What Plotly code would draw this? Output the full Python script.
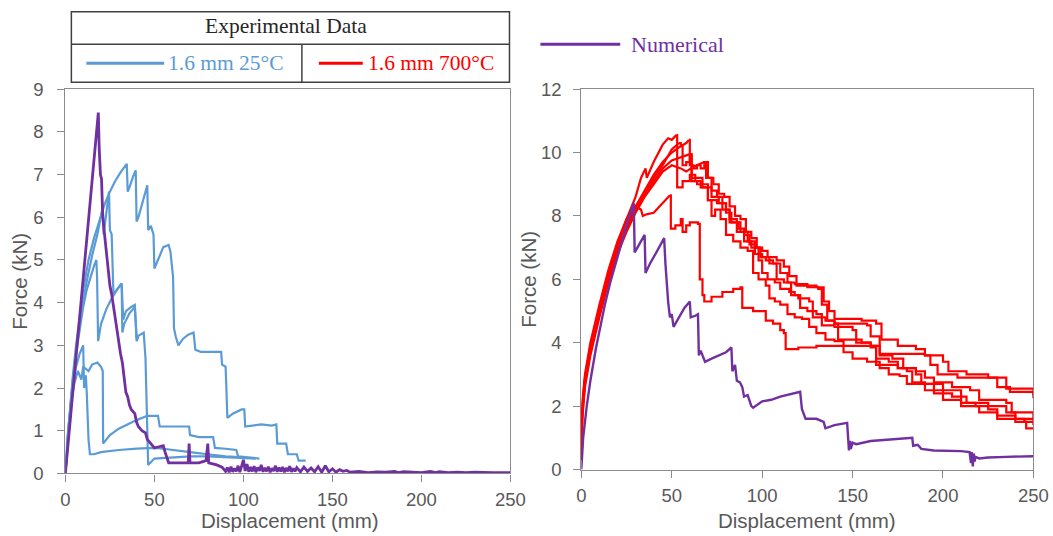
import plotly.graph_objects as go

# ---------------- data ----------------
# Left panel: 1.6 mm 25°C experimental curves (displacement mm, force kN)
blue_a_x = [0, 2, 4, 6, 8, 10, 13, 16, 19, 22, 25, 28, 31, 34.5, 35, 36, 38, 39.5, 40, 41, 43, 46, 46.5, 48, 49.5, 50, 52, 55, 58, 59, 60.5, 61, 62, 63.5, 66, 69, 72, 73, 76, 80, 87.5, 88, 90, 91, 94, 99, 100.5, 101, 104, 110, 116, 118.5, 119, 124, 125, 130, 131, 135]
blue_a_y = [0, 1.2, 2.2, 3.0, 3.7, 4.3, 5.0, 5.5, 5.9, 6.3, 6.6, 6.85, 7.05, 7.25, 6.6, 6.7, 6.95, 7.1, 5.9, 6.0, 6.3, 6.75, 5.7, 5.8, 5.6, 4.8, 5.0, 5.3, 5.35, 5.2, 4.6, 3.4, 3.2, 3.0, 3.15, 3.25, 3.3, 2.9, 2.85, 2.85, 2.85, 2.55, 2.5, 1.3, 1.4, 1.5, 1.5, 1.1, 1.12, 1.15, 1.12, 1.15, 0.7, 0.7, 0.45, 0.45, 0.3, 0.3]

blue_b_x = [0, 3, 6, 9, 12, 15, 18, 20, 21, 21.5, 23, 24.5, 25, 26, 27, 29, 31.6, 32.5, 34, 37, 39, 40, 42, 44, 45, 46.5, 50, 60, 70, 80, 90, 100, 107]
blue_b_y = [0, 1.7, 2.9, 3.8, 4.5, 5.1, 5.6, 6.0, 6.25, 5.6, 6.1, 6.6, 5.7, 5.6, 4.2, 4.3, 4.45, 3.6, 3.8, 3.9, 3.95, 3.2, 3.25, 3.3, 2.7, 0.2, 0.35, 0.38, 0.4, 0.4, 0.38, 0.36, 0.35]

blue_c_x = [0, 2, 4, 6, 8, 10, 12, 14, 16, 17.4, 17.8, 18.4, 20, 23, 26, 29, 31.6, 32, 33, 36, 39, 40, 41]
blue_c_y = [0, 1.1, 2.0, 2.8, 3.4, 3.9, 4.3, 4.6, 4.85, 5.0, 4.6, 3.1, 3.5, 3.85, 4.1, 4.3, 4.45, 3.3, 3.5, 3.75, 3.9, 3.1, 3.2]

blue_d_x = [0, 1, 3, 5, 7, 9, 10, 13, 15, 18, 20, 21, 21.2, 25, 30, 35, 40, 46, 52, 53, 60, 69.5, 70, 75, 83, 84, 90, 96, 97, 109]
blue_d_y = [0, 0.8, 1.6, 2.1, 2.4, 2.2, 2.5, 2.4, 2.55, 2.6, 2.5, 2.4, 0.7, 0.9, 1.05, 1.15, 1.25, 1.35, 1.35, 1.1, 1.1, 1.1, 0.9, 0.85, 0.85, 0.6, 0.58, 0.55, 0.4, 0.35]

blue_e_x = [0, 1, 2, 4, 6, 8, 10, 10.5, 11.5, 12, 12.5, 13, 13.8, 16, 20, 30, 40, 50, 55, 60, 70, 80, 90, 100]
blue_e_y = [0, 0.6, 1.2, 2.0, 2.5, 2.8, 3.0, 2.0, 2.3, 1.9, 1.0, 0.8, 0.45, 0.45, 0.5, 0.55, 0.58, 0.6, 0.58, 0.55, 0.5, 0.45, 0.4, 0.38]

# Left panel: numerical curve
num_l_x = [0, 18.5, 19, 19.7, 20.3, 21, 22, 23, 24, 25, 26, 27, 28, 29, 30, 31, 32, 33, 34, 35, 36, 37, 38, 39, 40, 41, 43, 45, 46, 48, 50, 52, 55, 56, 57, 58, 60, 65, 69, 69.5, 70, 75, 79, 80, 80.5, 85, 88, 90,
           91, 92, 93, 94, 95, 96, 97, 98, 99, 100, 101, 102, 103, 104, 105, 106, 107, 108, 109, 110, 111, 112, 113, 114, 115, 116, 117, 118, 119, 120, 121, 122, 123, 124, 125, 126, 127, 128, 129, 130,
           132, 134, 136, 138, 140, 142, 144, 146, 148, 150, 152, 154, 156, 158, 160,
           165, 170, 175, 180, 185, 187, 190, 195, 200, 205, 208, 210, 215, 220, 225, 230, 235, 240, 245, 250]
num_l_y = [0, 8.45, 7.6, 7.0, 6.9, 6.0, 5.6, 5.2, 4.8, 4.4, 4.2, 3.9, 3.7, 3.3, 3.0, 2.8, 2.6, 2.2, 1.9, 1.8, 1.6, 1.5, 1.45, 1.4, 1.2, 1.1, 1.0, 0.95, 0.8, 0.7, 0.6, 0.62, 0.65, 0.5, 0.35, 0.25, 0.25, 0.25, 0.25, 0.7, 0.25, 0.25, 0.3, 0.7, 0.25, 0.2, 0.15, 0.05,
           0.14, 0.03, 0.16, 0.04, 0.12, 0.05, 0.18, 0.03, 0.15, 0.32, 0.06, 0.22, 0.04, 0.15, 0.05, 0.17, 0.03, 0.14, 0.06, 0.2, 0.04, 0.13, 0.05, 0.16, 0.03, 0.12, 0.06, 0.18, 0.04, 0.14, 0.05, 0.15, 0.03, 0.13, 0.05, 0.17, 0.04, 0.12, 0.05, 0.14,
           0.04, 0.15, 0.05, 0.13, 0.04, 0.16, 0.03, 0.18, 0.04, 0.11, 0.03, 0.09, 0.05, 0.07, 0.03,
           0.05, 0.02, 0.04, 0.03, 0.05, 0.02, 0.04, 0.03, 0.02, 0.05, 0.02, 0.04, 0.02, 0.03, 0.02, 0.03, 0.02, 0.02, 0.02, 0.02]

# Right panel: 1.6 mm 700°C experimental curves
red_1_x = [0, 0.5, 2, 5, 10, 15, 20, 25, 30, 33, 35.5, 36.2, 40, 45, 48, 50, 52.5, 53, 56, 60, 63, 66, 70, 75, 80, 82, 88, 92, 96, 100, 104, 108, 112, 116, 120, 126, 128, 135, 140, 142, 155, 160, 163, 175, 185, 188, 200, 210, 213, 225, 235, 240, 250]
red_1_y = [0.3, 2.0, 2.9, 3.9, 5.1, 6.2, 7.1, 7.9, 8.6, 9.2, 9.5, 9.2, 9.7, 10.25, 10.45, 10.4, 10.55, 8.9, 9.1, 9.3, 9.1, 8.9, 8.5, 8.4, 8.2, 7.8, 7.5, 7.2, 6.8, 6.7, 6.5, 6.0, 5.9, 5.5, 5.4, 5.3, 4.8, 4.7, 4.6, 4.1, 4.0, 3.9, 3.3, 3.2, 3.0, 2.7, 2.5, 2.3, 2.1, 2.0, 1.8, 1.6, 1.5]

red_2_x = [0, 0.5, 2, 5, 10, 15, 20, 25, 30, 35, 40, 45, 50, 55, 58, 59.5, 60, 62, 64, 66, 68, 70, 73, 76, 79, 82, 85, 88, 91, 94, 97, 100, 103, 108, 112, 115, 119, 125, 131, 133, 136, 140, 158, 160, 165, 190, 193, 197, 208, 230, 235, 250]
red_2_y = [0.3, 1.8, 2.8, 3.8, 5.0, 6.1, 7.0, 7.7, 8.3, 8.8, 9.3, 9.7, 10.0, 10.2, 10.3, 10.4, 9.6, 9.5, 9.6, 9.5, 9.7, 9.2, 9.0, 8.7, 8.6, 8.3, 8.0, 7.9, 7.5, 7.3, 7.0, 6.9, 6.7, 6.6, 6.4, 6.1, 5.8, 5.75, 5.7, 5.2, 4.7, 4.6, 4.55, 4.2, 3.65, 3.6, 3.3, 3.0, 2.9, 2.9, 2.55, 2.35]

red_3_x = [0, 0.5, 2, 5, 10, 15, 20, 25, 30, 35, 40, 45, 50, 54, 55, 56, 58, 60, 61, 64, 67, 70, 72, 76, 80, 83, 87, 90, 93, 96, 99, 102, 106, 110, 114, 118, 125, 130, 134, 137, 140, 150, 155, 163, 166, 175, 185, 190, 200, 203, 213, 225, 230, 237, 250]
red_3_y = [0.3, 1.7, 2.7, 3.7, 4.9, 6.0, 6.9, 7.6, 8.2, 8.7, 9.2, 9.6, 10.1, 10.3, 10.2, 9.6, 9.7, 9.9, 9.2, 9.2, 9.0, 8.9, 8.6, 8.4, 8.1, 7.8, 7.6, 7.4, 7.1, 7.0, 6.7, 6.6, 6.5, 6.2, 5.9, 5.85, 5.8, 5.75, 5.3, 5.0, 4.75, 4.75, 4.7, 4.6, 4.1, 3.9, 3.8, 3.6, 3.4, 3.1, 3.0, 2.9, 2.6, 2.45, 2.25]

red_4_x = [0, 0.5, 2, 5, 10, 15, 20, 25, 30, 33, 34, 36, 40, 45, 49, 49.5, 52, 55, 56, 58, 60, 64.5, 65.5, 67, 68, 72, 78, 84, 88, 89, 95, 100, 102, 106, 110, 112, 113, 120, 130, 145, 160, 163, 170, 175, 180, 183, 190, 195, 205, 210, 218, 225, 230, 245, 250]
red_4_y = [0.3, 2.1, 3.0, 4.0, 5.2, 6.3, 7.2, 7.9, 8.3, 8.2, 8.0, 8.05, 8.1, 8.4, 8.65, 7.6, 7.7, 7.9, 7.5, 7.7, 7.8, 7.75, 6.0, 5.5, 5.3, 5.45, 5.6, 5.7, 5.75, 5.1, 5.0, 5.0, 4.7, 4.6, 4.4, 4.3, 3.8, 3.85, 3.9, 3.9, 3.85, 3.5, 3.4, 3.2, 3.1, 2.75, 2.7, 2.4, 2.3, 2.1, 2.0, 1.9, 1.6, 1.5, 1.4]

red_5_x = [0, 0.5, 2, 5, 10, 15, 20, 25, 30, 35, 40, 45, 50, 55, 58, 62, 68, 69, 72, 75, 78, 82, 86, 90, 94, 98, 100, 103, 107, 110, 115, 118, 121, 125, 130, 133, 140, 150, 152, 160, 165, 172, 178, 185, 190, 195, 205, 215, 220, 235, 238, 250]
red_5_y = [0.3, 1.6, 2.6, 3.6, 4.8, 5.9, 6.8, 7.5, 8.1, 8.6, 9.0, 9.4, 9.6, 9.5, 9.4, 9.55, 9.7, 9.2, 8.8, 8.6, 8.2, 7.9, 7.5, 7.2, 7.0, 6.6, 6.2, 6.0, 5.9, 5.7, 5.6, 5.5, 5.1, 5.0, 4.9, 4.55, 4.5, 4.4, 4.0, 3.9, 3.6, 3.5, 3.2, 3.1, 2.9, 2.75, 2.6, 2.5, 2.2, 2.1, 1.8, 1.6]

red_6_x = [0, 0.5, 2, 5, 10, 15, 20, 25, 30, 35, 40, 45, 50, 55, 60, 61, 64, 67, 70, 72, 74, 77, 80, 84, 88, 92, 95, 98, 102, 104, 107, 110, 114, 118, 122, 126, 130, 135, 140, 145, 150, 158, 165, 170, 176, 180, 190, 200, 210, 220, 230, 240, 246, 250]
red_6_y = [0.3, 1.9, 2.8, 3.8, 5.0, 6.1, 6.9, 7.6, 8.2, 8.7, 9.1, 9.5, 9.75, 9.85, 9.95, 9.1, 9.0, 8.9, 8.5, 8.0, 8.2, 7.9, 7.4, 7.2, 7.0, 6.9, 6.2, 6.0, 5.8, 5.4, 5.3, 5.2, 4.9, 4.8, 4.75, 4.5, 4.3, 4.1, 4.05, 3.7, 3.5, 3.4, 3.2, 3.0, 2.95, 2.7, 2.5, 2.2, 2.0, 1.8, 1.7, 1.5, 1.3, 1.3]

# Right panel: numerical curve
num_r_x = [0, 1, 3, 5, 8, 10, 13, 16, 20, 23, 26, 29, 29.5, 31, 33, 35, 35.5, 38, 41, 44, 45.8, 46.5, 47, 48, 49, 50, 51, 54, 57, 60, 60.5, 63, 64.5, 65, 66, 67, 68.4, 72, 76, 80, 83, 83.5, 85, 86, 87.7, 89, 90, 92, 94, 95, 100, 105, 110, 117, 121, 122, 124, 130, 134, 135, 140, 147, 147.6, 148, 148.5, 149, 150, 152, 160, 170, 183, 183.5, 186, 188, 195, 210, 214.7, 215.5, 216, 216.5, 217, 217.5, 218, 220, 225, 235, 250]
num_r_y = [0, 1.0, 2.0, 2.8, 3.8, 4.4, 5.2, 5.9, 6.7, 7.3, 7.9, 8.4, 6.85, 7.0, 7.2, 7.4, 6.2, 6.5, 6.8, 7.1, 7.3, 6.5, 6.0, 5.3, 4.8, 4.9, 4.5, 4.8, 5.1, 5.3, 4.8, 4.85, 4.9, 3.6, 3.75, 3.6, 3.4, 3.5, 3.6, 3.7, 3.85, 3.1, 3.3, 2.8, 2.75, 2.6, 2.3, 2.35, 2.0, 1.95, 2.15, 2.2, 2.3, 2.4, 2.45, 1.9, 1.6, 1.6, 1.5, 1.3, 1.4, 1.47, 1.0, 0.6, 0.9, 0.65, 0.85, 0.8, 0.9, 0.95, 1.0, 0.75, 0.78, 0.65, 0.6, 0.58, 0.55, 0.2, 0.55, 0.1, 0.5, 0.25, 0.4, 0.35, 0.38, 0.4, 0.42]

x_ticks = [0, 50, 100, 150, 200, 250]
left_y_ticks = [0, 1, 2, 3, 4, 5, 6, 7, 8, 9]
right_y_ticks = [0, 2, 4, 6, 8, 10, 12]

legend_exp_title = "Experimental Data"
legend_blue = "1.6 mm 25°C"
legend_red = "1.6 mm 700°C"
legend_num = "Numerical"
x_title = "Displacement (mm)"
y_title = "Force (kN)"

# ---------------- styling ----------------
BLUE = "#5B9BD5"
RED = "#FF0000"
PURPLE = "#7030A0"
W, H = 1053, 536
# The captured page shows the figure slightly inset/scaled; positions below are
# given in captured-picture pixels and converted to paper fractions.
SX, OX = 0.983, 3.5
SY, OY = 0.965, 9.5

def px(x):
    return ((x - OX) / SX) / W

def py(y):
    return 1 - ((y - OY) / SY) / H

fig = go.Figure()

for xs, ys in [(blue_a_x, blue_a_y), (blue_b_x, blue_b_y), (blue_c_x, blue_c_y),
               (blue_d_x, blue_d_y), (blue_e_x, blue_e_y)]:
    fig.add_trace(go.Scatter(x=xs, y=ys, mode="lines", line=dict(color=BLUE, width=2.2),
                             xaxis="x", yaxis="y", showlegend=False, hoverinfo="skip"))
fig.add_trace(go.Scatter(x=num_l_x, y=num_l_y, mode="lines", line=dict(color=PURPLE, width=2.8),
                         xaxis="x", yaxis="y", showlegend=False, hoverinfo="skip"))

# red curves: smooth loading branch up to the peak, stair-stepped softening branch after it
for xs, ys in [(red_1_x, red_1_y), (red_2_x, red_2_y), (red_3_x, red_3_y),
               (red_4_x, red_4_y), (red_5_x, red_5_y), (red_6_x, red_6_y)]:
    k = ys.index(max(ys))
    fig.add_trace(go.Scatter(x=xs[:k + 1], y=ys[:k + 1], mode="lines",
                             line=dict(color=RED, width=2.2),
                             xaxis="x2", yaxis="y2", showlegend=False, hoverinfo="skip"))
    fig.add_trace(go.Scatter(x=xs[k:], y=ys[k:], mode="lines",
                             line=dict(color=RED, width=2.2, shape="hv"),
                             xaxis="x2", yaxis="y2", showlegend=False, hoverinfo="skip"))
fig.add_trace(go.Scatter(x=num_r_x, y=num_r_y, mode="lines", line=dict(color=PURPLE, width=2.4),
                         xaxis="x2", yaxis="y2", showlegend=False, hoverinfo="skip"))

tickfont = dict(family="Liberation Sans, Arial, sans-serif", size=18.5, color="#595959")
axis_common = dict(showgrid=False, zeroline=False, showline=True, linecolor="#8c8c8c",
                   linewidth=1.3, mirror=True, ticks="outside", tickcolor="#8c8c8c",
                   ticklen=7, tickwidth=1.3, tickfont=tickfont, fixedrange=True)

fig.update_layout(
    width=W, height=H,
    margin=dict(l=0, r=0, t=0, b=0),
    paper_bgcolor="white", plot_bgcolor="white",
    xaxis=dict(domain=[px(64), px(510)], range=[0, 250], tickvals=x_ticks, anchor="y",
               ticklabelstandoff=2, **axis_common),
    yaxis=dict(domain=[py(474), py(88)], range=[0, 9], tickvals=left_y_ticks, anchor="x",
               ticklabelstandoff=10, **axis_common),
    xaxis2=dict(domain=[px(581), px(1034)], range=[0, 250], tickvals=x_ticks, anchor="y2",
                ticklabelstandoff=2, **axis_common),
    yaxis2=dict(domain=[py(470), py(88)], range=[0, 12], tickvals=right_y_ticks, anchor="x2",
                ticklabelstandoff=8, **axis_common),
)

title_font = dict(family="Liberation Sans, Arial, sans-serif", size=20.5, color="#595959")
serif = "Liberation Serif, Times New Roman, serif"
annotations = [
    dict(x=px(289), y=py(521), text=x_title, font=title_font),
    dict(x=px(807), y=py(521), text=x_title, font=title_font),
    dict(x=px(18), y=py(281), text=y_title, font=title_font, textangle=-90),
    dict(x=px(528), y=py(279), text=y_title, font=title_font, textangle=-90),
    dict(x=px(285), y=py(25), text=legend_exp_title, font=dict(family=serif, size=21.5, color="#262626")),
    dict(x=px(165), y=py(62), text=legend_blue, xanchor="left", font=dict(family=serif, size=21.5, color=BLUE)),
    dict(x=px(365), y=py(62), text=legend_red, xanchor="left", font=dict(family=serif, size=21.5, color=RED)),
    dict(x=px(629), y=py(43), text=legend_num, xanchor="left", font=dict(family=serif, size=22, color=PURPLE)),
]
for a in annotations:
    a.update(xref="paper", yref="paper", showarrow=False)
    a.setdefault("xanchor", "center")
    a.setdefault("yanchor", "middle")
fig.update_layout(annotations=annotations)

border = dict(color="#404040", width=1.5)
shapes = [
    dict(type="rect", x0=px(70), x1=px(509), y0=py(81), y1=min(py(6), 0.9985), line=border),
    dict(type="line", x0=px(70), x1=px(509), y0=py(43), y1=py(43), line=border),
    dict(type="line", x0=px(301), x1=px(301), y0=py(81), y1=py(43), line=border),
    dict(type="line", x0=px(85), x1=px(163), y0=py(62), y1=py(62), line=dict(color=BLUE, width=3)),
    dict(type="line", x0=px(318), x1=px(362), y0=py(62), y1=py(62), line=dict(color=RED, width=3)),
    dict(type="line", x0=px(540), x1=px(620), y0=py(43), y1=py(43), line=dict(color=PURPLE, width=3)),
]
for s in shapes:
    s.update(xref="paper", yref="paper")
fig.update_layout(shapes=shapes)

fig.write_html("out.html")
